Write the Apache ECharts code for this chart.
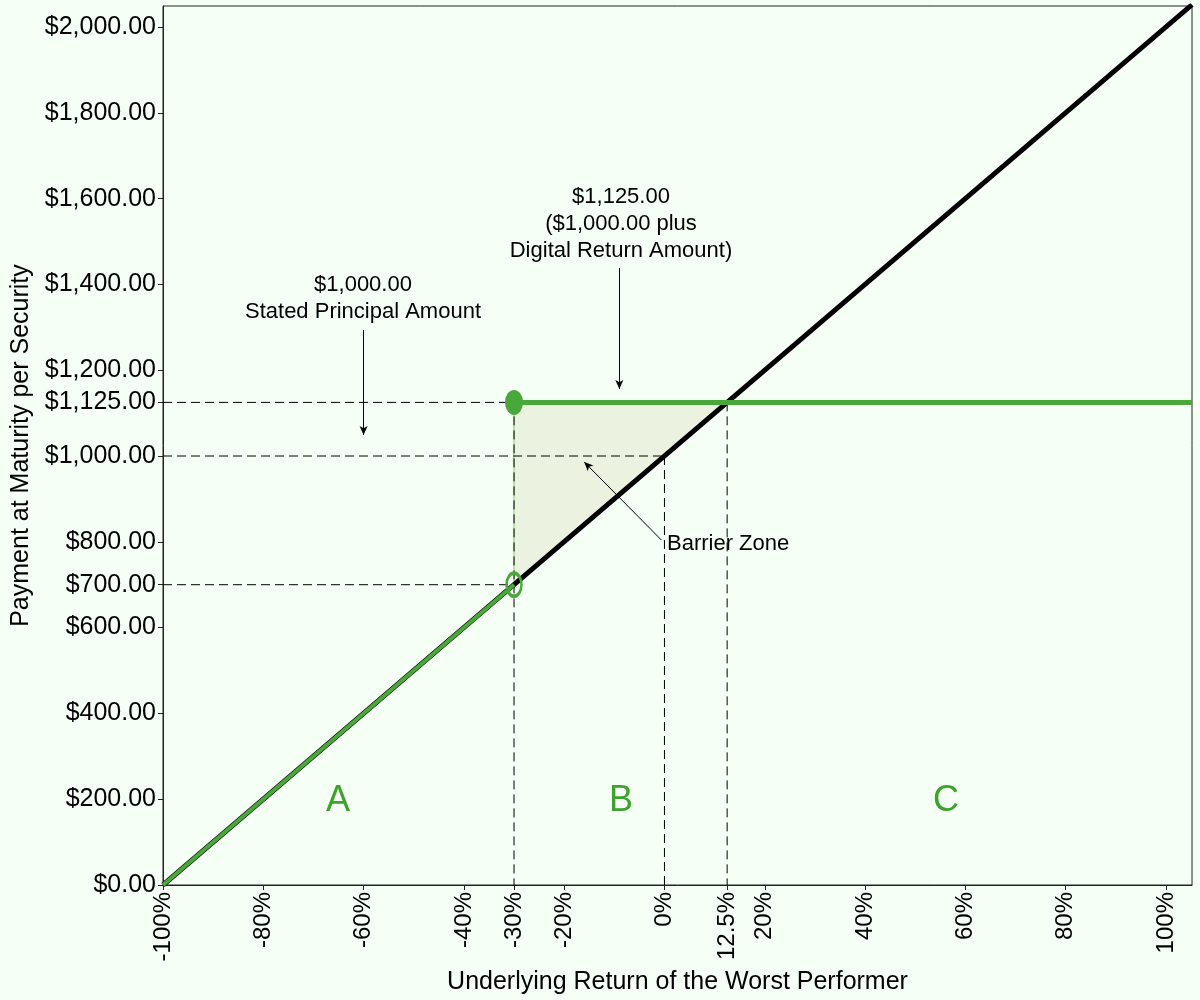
<!DOCTYPE html>
<html>
<head>
<meta charset="utf-8">
<script src="https://cdn.jsdelivr.net/npm/echarts@6/dist/echarts.min.js"></script>
<style>
html,body{margin:0;padding:0;background:#f5fff5;}
#c{width:1200px;height:1000px;}
</style>
</head>
<body>
<div id="c"></div>
<script>
// ---- data ----
const xTicks = [-100, -80, -60, -40, -30, -20, 0, 12.5, 20, 40, 60, 80, 100];
const yTicks = [0, 200, 400, 600, 700, 800, 1000, 1125, 1200, 1400, 1600, 1800, 2000];
const xMin = -100, xMax = 105.2, yMin = 0, yMax = 2049;
// underlying return (%) -> payment ($)
const blackX = [-100, -30, 12.5, 105.2];
const blackY = [0, 700, 1125, 2052];
const greenAX = [-100, -30];
const greenAY = [0, 700];
const greenCX = [-30, 105.2];
const greenCY = [1125, 1125];
const triX = [-30, -30, 12.5];
const triY = [700, 1125, 1125];
// dashed guides: [x1, y1, x2, y2]
const guides = [
  [-100, 1125, -30, 1125],
  [-100, 1000, 0, 1000],
  [-100, 700, -30, 700],
  [-30, 1125, -30, 0],
  [0, 1000, 0, 0],
  [12.5, 1125, 12.5, 0]
];
const filledPoint = [-30, 1125];
const hollowPoint = [-30, 700];
// arrows in data coords [x1,y1,x2,y2]
const arrows = [
  [-60, 1294, -60, 1049],
  [-9, 1438, -9, 1156],
  [-0.6, 804, -16, 986]
];

const FONT = '"Liberation Sans", Arial, sans-serif';
const GREEN = '#4aa83a';

function fmtMoney(v) {
  const s = Math.round(v).toString().replace(/\B(?=(\d{3})+(?!\d))/g, ',');
  return '$' + s + '.00';
}
function zip(xs, ys) { return xs.map((x, i) => [x, ys[i]]); }

const chart = echarts.init(document.getElementById('c'), null, {renderer: 'canvas'});

const series = [];
series.push({
  type: 'custom',
  silent: true,
  z: 1,
  data: [0],
  renderItem: function (params, api) {
    const pts = triX.map((x, i) => api.coord([x, triY[i]]));
    return {
      type: 'group',
      children: [
        {type: 'polygon', shape: {points: pts}, style: {fill: '#ebf2df'}},
        {type: 'line', shape: {x1: pts[0][0], y1: pts[0][1], x2: pts[1][0], y2: pts[1][1]},
         style: {stroke: '#a6dc96', lineWidth: 1.5}}
      ]
    };
  }
});
guides.forEach(g => {
  series.push({
    type: 'line', silent: true, z: 2, symbol: 'none',
    data: [[g[0], g[1]], [g[2], g[3]]],
    lineStyle: {color: '#000', width: 1, type: [9, 5]}
  });
});
series.push({
  type: 'line', silent: true, z: 3, symbol: 'none',
  data: zip(blackX, blackY),
  lineStyle: {color: '#000', width: 5}
});
series.push({
  type: 'line', silent: true, z: 4, symbol: 'none',
  data: zip(greenAX, greenAY),
  lineStyle: {color: GREEN, width: 4}
});
series.push({
  type: 'line', silent: true, z: 4, symbol: 'none',
  data: zip(greenCX, greenCY),
  lineStyle: {color: GREEN, width: 5}
});
series.push({
  type: 'scatter', silent: true, z: 5,
  symbol: 'circle', symbolSize: [18, 25],
  data: [filledPoint],
  itemStyle: {color: GREEN, opacity: 1}
});
series.push({
  type: 'scatter', silent: true, z: 5,
  symbol: 'circle', symbolSize: [15, 23],
  data: [hollowPoint],
  itemStyle: {color: 'rgba(0,0,0,0)', borderColor: GREEN, borderWidth: 3, opacity: 1}
});
// arrows
series.push({
  type: 'line', silent: true, z: 6, symbol: 'none', data: [],
  markLine: {
    silent: true,
    symbol: ['none', 'arrow'],
    symbolSize: [6, 9],
    label: {show: false},
    lineStyle: {color: '#000', width: 1, type: 'solid'},
    data: arrows.map(a => [{coord: [a[0], a[1]]}, {coord: [a[2], a[3]]}])
  }
});

const textStyle = {fill: '#000', font: '22px ' + FONT, textAlign: 'center', textVerticalAlign: 'middle'};
const letterStyle = {fill: '#3ea32c', font: '36px ' + FONT, textAlign: 'center', textVerticalAlign: 'middle'};

chart.setOption({
  backgroundColor: '#f5fff5',
  animation: false,
  grid: {left: 163, top: 6, right: 8, bottom: 115, outerBoundsMode: 'none', containLabel: false,
    show: true, borderColor: '#222', borderWidth: 1, backgroundColor: 'transparent'},
  xAxis: {
    type: 'value', min: xMin, max: xMax,
    name: 'Underlying Return of the Worst Performer',
    nameLocation: 'middle', nameGap: 73,
    nameTextStyle: {color: '#000', fontSize: 25, fontFamily: FONT},
    axisLine: {show: true, onZero: false, lineStyle: {color: '#222', width: 1}},
    axisTick: {show: true, length: 5, customValues: xTicks, lineStyle: {color: '#222'}},
    axisLabel: {customValues: xTicks, rotate: 90, margin: 7, color: '#000', fontSize: 24, fontFamily: FONT,
      formatter: v => v + '%'},
    splitLine: {show: false}
  },
  yAxis: {
    type: 'value', min: yMin, max: yMax,
    name: 'Payment at Maturity per Security',
    nameLocation: 'middle', nameGap: 121,
    nameTextStyle: {color: '#000', fontSize: 25, fontFamily: FONT},
    axisLine: {show: true, onZero: false, lineStyle: {color: '#222', width: 1}},
    axisTick: {show: true, length: 5, customValues: yTicks, lineStyle: {color: '#222'}},
    axisLabel: {customValues: yTicks, margin: 7, color: '#000', fontSize: 25, fontFamily: FONT,
      formatter: v => fmtMoney(v)},
    splitLine: {show: false}
  },
  graphic: [
    {type: 'text', x: 363, y: 285, style: Object.assign({text: '$1,000.00'}, textStyle)},
    {type: 'text', x: 363, y: 312, style: Object.assign({text: 'Stated Principal Amount'}, textStyle)},
    {type: 'text', x: 621, y: 197, style: Object.assign({text: '$1,125.00'}, textStyle)},
    {type: 'text', x: 621, y: 224, style: Object.assign({text: '($1,000.00 plus'}, textStyle)},
    {type: 'text', x: 621, y: 251, style: Object.assign({text: 'Digital Return Amount)'}, textStyle)},
    {type: 'text', x: 667, y: 544, style: Object.assign({}, textStyle, {text: 'Barrier Zone', textAlign: 'left'})},
    {type: 'text', x: 338, y: 801, style: Object.assign({text: 'A'}, letterStyle)},
    {type: 'text', x: 621, y: 801, style: Object.assign({text: 'B'}, letterStyle)},
    {type: 'text', x: 946, y: 801, style: Object.assign({text: 'C'}, letterStyle)}
  ],
  series: series
});
</script>
</body>
</html>
